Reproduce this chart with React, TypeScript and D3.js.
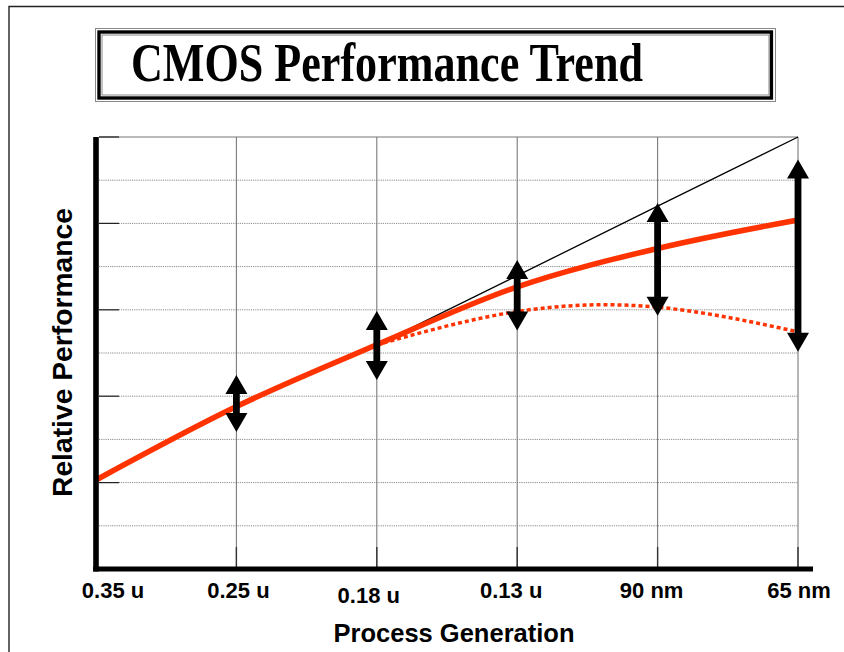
import React from "react";
import * as d3 from "d3";

// ---- data ----
const categories = ["0.35 u", "0.25 u", "0.18 u", "0.13 u", "90 nm", "65 nm"];
const actualPerf = [2.06, 3.76, 5.19, 6.53, 7.42, 8.08];
const idealCats = ["0.18 u", "0.13 u", "90 nm", "65 nm"];
const idealPerf = [5.19, 6.79, 8.4, 10.0];
const stalledCats = ["0.18 u", "0.13 u", "90 nm", "65 nm"];
const stalledPerf = [5.19, 5.96, 6.06, 5.49];
const gapCats = ["0.25 u", "0.18 u", "0.13 u", "90 nm", "65 nm"];
const gapTop = [4.49, 5.97, 7.15, 8.47, 9.48];
const gapBottom = [3.17, 4.375, 5.52, 5.86, 5.03];
const yMax = 10;

const W = 844;
const H = 652;
const ORANGE = "#ff3300";
const SANS = "'Liberation Sans', Arial, sans-serif";
const SERIF = "'Liberation Serif', 'Times New Roman', serif";

export default function App() {
  const x = d3.scalePoint<string>().domain(categories).range([96, 798]);
  const y = d3.scaleLinear().domain([0, yMax]).range([569, 137]);
  const yTicks = y.ticks(10);

  const lineGen = (cats: string[], vals: number[], curve: d3.CurveFactory) =>
    d3
      .line<number>()
      .x((_, i) => x(cats[i]) as number)
      .y((d) => y(d))
      .curve(curve)(vals) as string;

  const actualPath = lineGen(categories, actualPerf, d3.curveMonotoneX);
  const idealPath = lineGen(idealCats, idealPerf, d3.curveLinear);
  const stalledPath = lineGen(stalledCats, stalledPerf, d3.curveNatural);

  const headW = 11;
  const headH = 19;
  const shaftW = 3.4;
  const arrowPath = (cx: number, yt: number, yb: number) =>
    `M${cx},${yt} L${cx + headW},${yt + headH} L${cx + shaftW},${yt + headH} ` +
    `L${cx + shaftW},${yb - headH} L${cx + headW},${yb - headH} L${cx},${yb} ` +
    `L${cx - headW},${yb - headH} L${cx - shaftW},${yb - headH} L${cx - shaftW},${yt + headH} ` +
    `L${cx - headW},${yt + headH} Z`;

  const labelDx: Record<string, number> = {
    "0.35 u": 17,
    "0.25 u": 2,
    "0.18 u": -8,
    "0.13 u": -6,
    "90 nm": -6,
    "65 nm": 1,
  };
  const labelDy: Record<string, number> = { "0.18 u": 5 };

  const x0 = x(categories[0]) as number;
  const xN = x(categories[categories.length - 1]) as number;

  return (
    <svg
      width={W}
      height={H}
      style={{ position: "absolute", left: 0, top: 0, background: "#fff" }}
    >
      <rect x={0} y={0} width={W} height={H} fill="#fff" />
      {/* outer frame */}
      <path d={`M9,${H} L9,6.5 L${W},6.5`} fill="none" stroke="#222" strokeWidth={1.4} />

      {/* title box */}
      <rect x={95.5} y={28.5} width={680} height={73} fill="none" stroke="#888" strokeWidth={1} />
      <rect x={99} y={32} width={672.4} height={66} fill="none" stroke="#000" strokeWidth={3.4} />
      <rect x={102} y={35} width={667} height={60} fill="none" stroke="#888" strokeWidth={1} />
      <text
        x={131}
        y={81}
        fontFamily={SERIF}
        fontWeight="bold"
        fontSize={54}
        textLength={512}
        lengthAdjust="spacingAndGlyphs"
        fill="#000"
      >
        CMOS Performance Trend
      </text>

      {/* horizontal gridlines */}
      {yTicks
        .filter((t) => t > 0 && t < yMax)
        .map((t) => (
          <line
            key={"g" + t}
            x1={99}
            x2={xN}
            y1={y(t)}
            y2={y(t)}
            stroke="#8a8a8a"
            strokeWidth={1}
            strokeDasharray="1.2 1"
          />
        ))}
      {/* top border line */}
      <line x1={99} x2={xN} y1={y(yMax)} y2={y(yMax)} stroke="#777" strokeWidth={1.2} />
      {/* left ticks */}
      {yTicks
        .filter((t) => t > 0 && t % 2 === 0)
        .map((t) => (
          <line key={"t" + t} x1={99} x2={119} y1={y(t)} y2={y(t)} stroke="#222" strokeWidth={1.2} />
        ))}

      {/* vertical gridlines */}
      {categories.slice(1).map((c) => (
        <g key={"v" + c}>
          <line x1={x(c)} x2={x(c)} y1={y(yMax)} y2={y(0)} stroke="#7a7a7a" strokeWidth={1.1} />
          <line x1={x(c)} x2={x(c)} y1={y(0) - 22} y2={y(0)} stroke="#333" strokeWidth={1.4} />
        </g>
      ))}

      {/* ideal trend */}
      <path d={idealPath} fill="none" stroke="#000" strokeWidth={1.3} />
      {/* stalled (dotted) */}
      <path d={stalledPath} fill="none" stroke={ORANGE} strokeWidth={3.5} strokeDasharray="4 3" />
      {/* actual performance */}
      <path d={actualPath} fill="none" stroke={ORANGE} strokeWidth={5.5} />

      {/* gap arrows */}
      {gapCats.map((c, i) => (
        <path
          key={"a" + c}
          d={arrowPath(x(c) as number, y(gapTop[i]), y(gapBottom[i]))}
          fill="#000"
        />
      ))}

      {/* axes */}
      <line x1={x0} x2={x0} y1={y(yMax)} y2={y(0) + 2.5} stroke="#000" strokeWidth={5.6} />
      <line x1={x0 - 2.8} x2={813} y1={y(0)} y2={y(0)} stroke="#000" strokeWidth={5} />

      {/* x tick labels */}
      {categories.map((c) => (
        <text
          key={"l" + c}
          x={(x(c) as number) + (labelDx[c] || 0)}
          y={598 + (labelDy[c] || 0)}
          textAnchor="middle"
          fontFamily={SANS}
          fontWeight="bold"
          fontSize={22}
          fill="#000"
        >
          {c}
        </text>
      ))}

      {/* axis titles */}
      <text
        x={454}
        y={641.5}
        textAnchor="middle"
        fontFamily={SANS}
        fontWeight="bold"
        fontSize={25.5}
        fill="#000"
      >
        Process Generation
      </text>
      <text
        transform={`translate(71.5, 352.5) rotate(-90)`}
        textAnchor="middle"
        fontFamily={SANS}
        fontWeight="bold"
        fontSize={28}
        textLength={289}
        lengthAdjust="spacingAndGlyphs"
        fill="#000"
      >
        Relative Performance
      </text>
    </svg>
  );
}
